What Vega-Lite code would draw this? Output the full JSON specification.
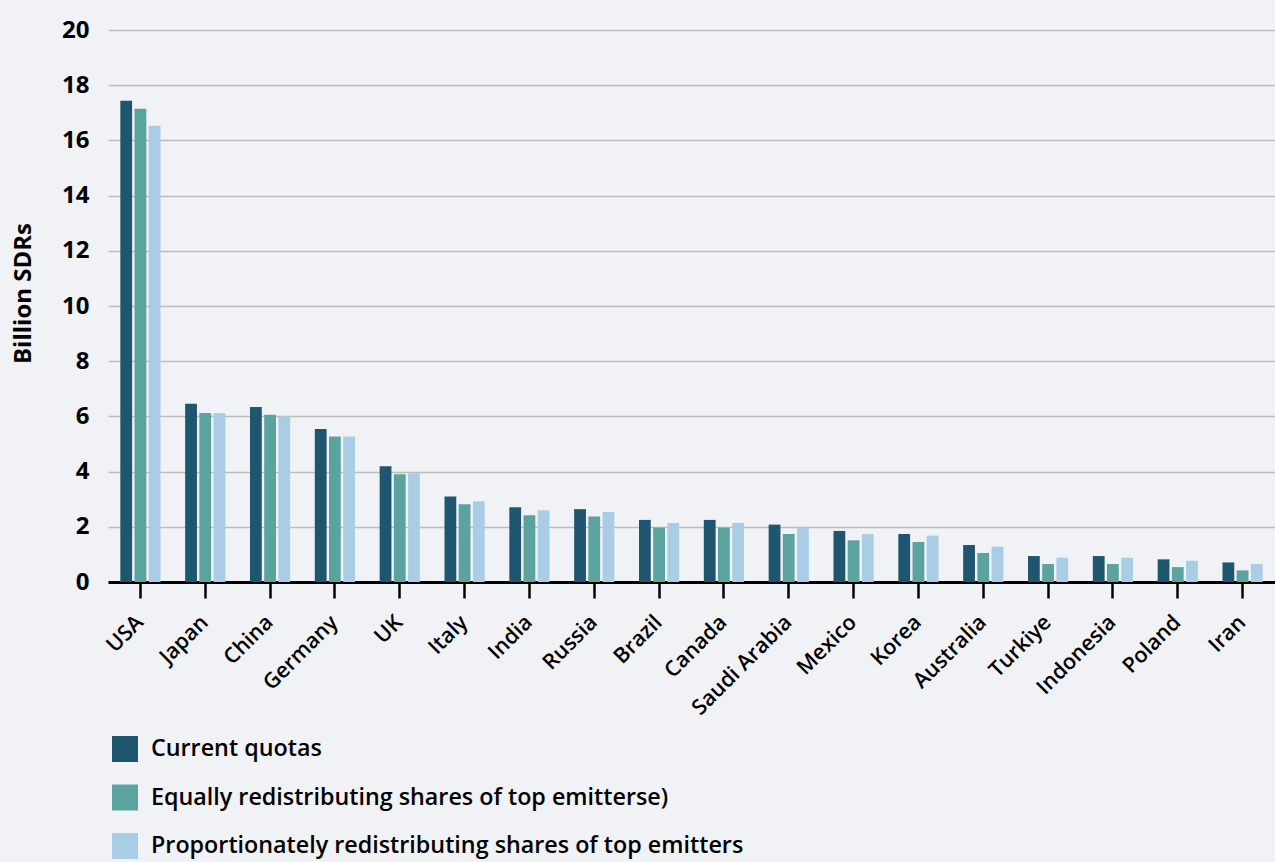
{
  "$schema": "https://vega.github.io/schema/vega-lite/v6.json",
  "width": 1167,
  "height": 552,
  "autosize": {"type": "none"},
  "padding": {"left": 108, "top": 30, "right": 0, "bottom": 280},
  "background": "#f1f2f6",
  "config": {
    "view": {"stroke": null},
    "font": "Open Sans"
  },
  "data": {
    "values": [
      {"country": "USA", "scenario": "Current quotas", "value": 17.44},
      {"country": "USA", "scenario": "Equally redistributing shares of top emitterse)", "value": 17.15},
      {"country": "USA", "scenario": "Proportionately redistributing shares of top emitters", "value": 16.53},
      {"country": "Japan", "scenario": "Current quotas", "value": 6.46},
      {"country": "Japan", "scenario": "Equally redistributing shares of top emitterse)", "value": 6.12},
      {"country": "Japan", "scenario": "Proportionately redistributing shares of top emitters", "value": 6.12},
      {"country": "China", "scenario": "Current quotas", "value": 6.34},
      {"country": "China", "scenario": "Equally redistributing shares of top emitterse)", "value": 6.06},
      {"country": "China", "scenario": "Proportionately redistributing shares of top emitters", "value": 6.0},
      {"country": "Germany", "scenario": "Current quotas", "value": 5.54},
      {"country": "Germany", "scenario": "Equally redistributing shares of top emitterse)", "value": 5.27},
      {"country": "Germany", "scenario": "Proportionately redistributing shares of top emitters", "value": 5.27},
      {"country": "UK", "scenario": "Current quotas", "value": 4.19},
      {"country": "UK", "scenario": "Equally redistributing shares of top emitterse)", "value": 3.9},
      {"country": "UK", "scenario": "Proportionately redistributing shares of top emitters", "value": 3.94},
      {"country": "Italy", "scenario": "Current quotas", "value": 3.1},
      {"country": "Italy", "scenario": "Equally redistributing shares of top emitterse)", "value": 2.82},
      {"country": "Italy", "scenario": "Proportionately redistributing shares of top emitters", "value": 2.93},
      {"country": "India", "scenario": "Current quotas", "value": 2.71},
      {"country": "India", "scenario": "Equally redistributing shares of top emitterse)", "value": 2.42},
      {"country": "India", "scenario": "Proportionately redistributing shares of top emitters", "value": 2.6},
      {"country": "Russia", "scenario": "Current quotas", "value": 2.64},
      {"country": "Russia", "scenario": "Equally redistributing shares of top emitterse)", "value": 2.37},
      {"country": "Russia", "scenario": "Proportionately redistributing shares of top emitters", "value": 2.54},
      {"country": "Brazil", "scenario": "Current quotas", "value": 2.25},
      {"country": "Brazil", "scenario": "Equally redistributing shares of top emitterse)", "value": 1.97},
      {"country": "Brazil", "scenario": "Proportionately redistributing shares of top emitters", "value": 2.14},
      {"country": "Canada", "scenario": "Current quotas", "value": 2.25},
      {"country": "Canada", "scenario": "Equally redistributing shares of top emitterse)", "value": 1.97},
      {"country": "Canada", "scenario": "Proportionately redistributing shares of top emitters", "value": 2.14},
      {"country": "Saudi Arabia", "scenario": "Current quotas", "value": 2.08},
      {"country": "Saudi Arabia", "scenario": "Equally redistributing shares of top emitterse)", "value": 1.74},
      {"country": "Saudi Arabia", "scenario": "Proportionately redistributing shares of top emitters", "value": 1.97},
      {"country": "Mexico", "scenario": "Current quotas", "value": 1.85},
      {"country": "Mexico", "scenario": "Equally redistributing shares of top emitterse)", "value": 1.51},
      {"country": "Mexico", "scenario": "Proportionately redistributing shares of top emitters", "value": 1.74},
      {"country": "Korea", "scenario": "Current quotas", "value": 1.74},
      {"country": "Korea", "scenario": "Equally redistributing shares of top emitterse)", "value": 1.45},
      {"country": "Korea", "scenario": "Proportionately redistributing shares of top emitters", "value": 1.68},
      {"country": "Australia", "scenario": "Current quotas", "value": 1.34},
      {"country": "Australia", "scenario": "Equally redistributing shares of top emitterse)", "value": 1.05},
      {"country": "Australia", "scenario": "Proportionately redistributing shares of top emitters", "value": 1.28},
      {"country": "Turkiye", "scenario": "Current quotas", "value": 0.94},
      {"country": "Turkiye", "scenario": "Equally redistributing shares of top emitterse)", "value": 0.65},
      {"country": "Turkiye", "scenario": "Proportionately redistributing shares of top emitters", "value": 0.88},
      {"country": "Indonesia", "scenario": "Current quotas", "value": 0.94},
      {"country": "Indonesia", "scenario": "Equally redistributing shares of top emitterse)", "value": 0.65},
      {"country": "Indonesia", "scenario": "Proportionately redistributing shares of top emitters", "value": 0.88},
      {"country": "Poland", "scenario": "Current quotas", "value": 0.82},
      {"country": "Poland", "scenario": "Equally redistributing shares of top emitterse)", "value": 0.54},
      {"country": "Poland", "scenario": "Proportionately redistributing shares of top emitters", "value": 0.77},
      {"country": "Iran", "scenario": "Current quotas", "value": 0.71},
      {"country": "Iran", "scenario": "Equally redistributing shares of top emitterse)", "value": 0.42},
      {"country": "Iran", "scenario": "Proportionately redistributing shares of top emitters", "value": 0.65}
    ]
  },
  "mark": {"type": "bar"},
  "encoding": {
    "x": {
      "field": "country",
      "type": "nominal",
      "sort": null,
      "scale": {"paddingInner": 0.38, "paddingOuter": 0.19},
      "axis": {
        "title": null,
        "labelAngle": -45,
        "labelAlign": "right",
        "labelBaseline": "middle",
        "labelFont": "Open Sans",
        "labelFontSize": 21.5,
        "labelFontWeight": 600,
        "labelColor": "#000000",
        "labelPadding": 21,
        "tickSize": 16,
        "tickWidth": 2.5,
        "tickColor": "#000000",
        "domainColor": "#000000",
        "domainWidth": 3,
        "grid": false
      }
    },
    "xOffset": {
      "field": "scenario",
      "type": "nominal",
      "sort": null,
      "scale": {"paddingInner": 0.17, "paddingOuter": 0}
    },
    "y": {
      "field": "value",
      "type": "quantitative",
      "scale": {"domain": [0, 20], "nice": false},
      "axis": {
        "title": "Billion SDRs",
        "titleFont": "Open Sans",
        "titleFontSize": 24,
        "titleFontWeight": "bold",
        "titleColor": "#000000",
        "titleAngle": -90,
        "titleAlign": "center",
        "titleBaseline": "middle",
        "titleX": -85,
        "titleY": 263,
        "values": [0, 2, 4, 6, 8, 10, 12, 14, 16, 18, 20],
        "labelFont": "Open Sans",
        "labelFontSize": 24,
        "labelFontWeight": "bold",
        "labelColor": "#000000",
        "labelPadding": 19,
        "ticks": false,
        "domain": false,
        "grid": true,
        "gridColor": "#bdbdbd",
        "gridWidth": 1.5
      }
    },
    "color": {
      "field": "scenario",
      "type": "nominal",
      "sort": null,
      "scale": {
        "domain": [
          "Current quotas",
          "Equally redistributing shares of top emitterse)",
          "Proportionately redistributing shares of top emitters"
        ],
        "range": ["#1e5670", "#5aa39e", "#a8cde5"]
      },
      "legend": {
        "title": null,
        "orient": "none",
        "legendX": 4,
        "legendY": 706,
        "direction": "vertical",
        "padding": 0,
        "symbolType": "square",
        "symbolSize": 676,
        "symbolStrokeWidth": 0,
        "symbolOpacity": 1,
        "labelFont": "Open Sans",
        "labelFontSize": 23.3,
        "labelFontWeight": 600,
        "labelColor": "#000000",
        "labelOffset": 13,
        "labelLimit": 800,
        "rowPadding": 22.5
      }
    }
  }
}
